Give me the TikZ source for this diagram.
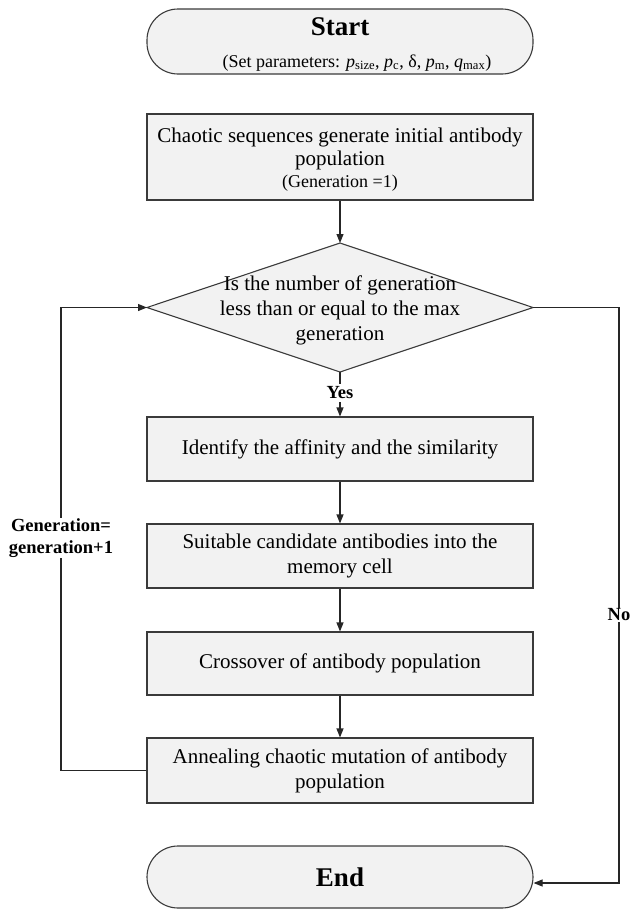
\documentclass[tikz,border=0pt]{standalone}
\usepackage{fontspec}
\setmainfont{Liberation Serif}
\usetikzlibrary{arrows.meta}
\definecolor{boxfill}{HTML}{F2F2F2}
\definecolor{boxline}{HTML}{3A3A3A}
\tikzset{
  procbox/.style={draw=boxline, fill=boxfill, line width=1.1pt, minimum width=386pt, inner sep=0pt, align=center, font=\fontsize{21}{25}\selectfont},
  termbox/.style={draw=boxline, fill=boxfill, line width=1.1pt, minimum width=386pt, inner sep=0pt, rounded corners=31pt},
  conn/.style={line width=1.1pt, draw=black!85},
  arr/.style={conn, -{Triangle[length=9pt,width=7pt]}},
  lbl/.style={font=\bfseries\fontsize{18.5}{22}\selectfont, inner sep=1pt, align=center},
}
\begin{document}
\begin{tikzpicture}[x=1pt,y=-1pt]
\useasboundingbox (0,0) rectangle (629,910);
% Start
\node[termbox, minimum height=65pt] (start) at (340,41.5) {};
\node[font=\bfseries\fontsize{27}{30}\selectfont, inner sep=0pt] (starttxt) at (340,27) {Start};
\node[font=\fontsize{18}{22}\selectfont, inner sep=0pt] (params) at (357,63) {(Set parameters: \textit{p}\textsubscript{size}, \textit{p}\textsubscript{c}, δ, \textit{p}\textsubscript{m}, \textit{q}\textsubscript{max})};
% Box 1
\node[procbox, minimum height=86pt] (b1) at (340,157) {};
\node[font=\fontsize{21}{23}\selectfont, align=center, inner sep=0pt] (b1txt) at (340,160) {Chaotic sequences generate initial antibody\\population\\[-1pt]{\fontsize{18}{20}\selectfont (Generation =1)}};
% Diamond
\coordinate (dT) at (340,243);
\coordinate (dB) at (340,372);
\coordinate (dL) at (147,307.5);
\coordinate (dR) at (533,307.5);
\draw[draw=boxline, fill=boxfill, line width=1.1pt] (dT) -- (dR) -- (dB) -- (dL) -- cycle;
\node[font=\fontsize{21}{25}\selectfont, align=center, inner sep=0pt] (dtxt) at (340,310) {Is the number of generation\\less than or equal to the max\\generation};
% Process boxes
\node[procbox, minimum height=64pt] (b2) at (340,449) {Identify the affinity and the similarity};
\node[procbox, minimum height=64pt] (b3) at (340,556) {Suitable candidate antibodies into the\\memory cell};
\node[procbox, minimum height=63pt] (b4) at (340,663.5) {Crossover of antibody population};
\node[procbox, minimum height=65pt] (b5) at (340,770.5) {Annealing chaotic mutation of antibody\\population};
% End
\node[termbox, minimum height=62pt, font=\bfseries\fontsize{27}{30}\selectfont] (end) at (340,877) {End};
% connectors
\draw[arr] (b1.south) -- (dT);
\draw[conn] (dB) -- (340,384);
\node[lbl] (yes) at (340,393) {Yes};
\draw[arr] (340,402) -- (b2.north);
\draw[arr] (b2) -- (b3);
\draw[arr] (b3) -- (b4);
\draw[arr] (b4) -- (b5);
\coordinate (lc) at (61,770.5);
\draw[arr] (b5.west) -- (lc) |- (dL);
\coordinate (rc) at (619,307.5);
\draw[arr] (dR) -- (rc) |- ([yshift=-6pt]end.east);
\node[lbl, fill=white] (gen) at (61,538) {Generation=\\generation+1};
\node[lbl, fill=white] (no) at (619,615) {No};
\end{tikzpicture}
\end{document}
